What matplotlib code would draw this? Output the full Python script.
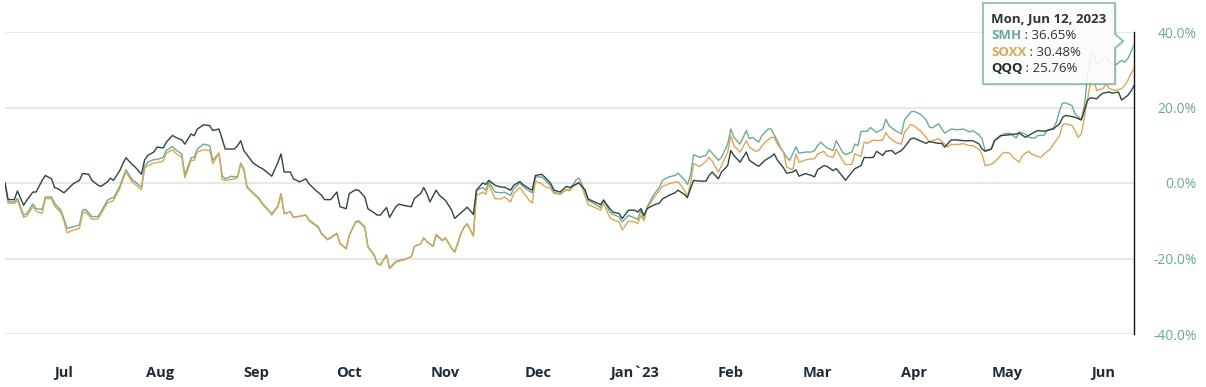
import numpy as np
import pandas as pd
import matplotlib
matplotlib.use("Agg")
import matplotlib.pyplot as plt
import matplotlib.transforms as mtransforms
from matplotlib.patches import Polygon

# cumulative return (%) since 2022-06-13; x = days since start
start = pd.Timestamp("2022-06-13")

qqq_day = [0, 1, 3, 4, 6, 7, 9, 10, 12, 13, 15, 16, 17, 19, 20, 22, 24, 25, 27, 28, 30, 31, 33, 34, 35, 37, 38, 39, 41, 42,
           44, 45, 46, 48, 49, 51, 52, 54, 55, 57, 58, 60, 61, 62, 64, 66, 67, 69, 70, 71, 73,
           74, 75, 76, 77, 79, 80, 82, 83, 85, 86, 88, 89, 90, 92, 93, 95, 97, 98, 100, 102, 103, 105, 107, 108, 110,
           111, 113, 114, 116, 117, 119, 120, 121, 123, 124, 126, 127, 129, 131, 132, 134, 135, 136, 137, 139, 140, 142, 144, 145,
           146, 148, 149, 151, 152, 154, 155, 156, 158, 160, 161, 163, 164, 166, 167, 169, 170, 171, 173, 174, 176, 177, 179,
           181, 182, 184, 185, 187, 188, 190, 192, 193, 195, 196, 198, 199, 201, 203, 204, 205, 206, 207, 209, 211, 212, 214, 216, 217,
           219, 220, 221, 222, 224, 226, 227, 228, 230, 231, 233, 234, 235, 237, 239, 240, 242, 243, 245, 247, 248, 249, 251, 252,
           254, 255, 256, 258, 260, 261, 262, 264, 265, 267, 268, 270, 271, 272, 274, 276, 277, 278, 280, 281, 283, 284, 286, 287, 289, 290,
           292, 293, 295, 297, 298, 299, 301, 302, 303, 305, 307, 309, 311, 312, 314, 315, 316, 318, 319, 321, 322, 324, 326, 327,
           329, 330, 332, 333, 335, 336, 338, 340, 341, 342, 344, 345, 347, 348, 349, 350, 352, 353, 354, 356, 357, 359, 360, 362, 363, 364]
qqq_val = [0.0, -4.4, -4.4, -2.1, -5.9, -4.6, -2.4, -2.4, 0.7, 2.0, 1.1, -1.2, -1.5, -2.6, -1.8, -0.2, 0.7, 2.5, 2.3, 0.7, -0.6, -0.9, 0.3, 1.3, 0.7, 3.3, 5.1, 6.7, 4.9, 4.2,
           2.3, 6.1, 7.3, 8.2, 9.5, 9.3, 10.8, 12.6, 12.1, 11.4, 10.3, 13.0, 12.5, 14.3, 15.4, 15.2, 13.9, 14.3, 11.7, 9.0, 9.0,
           9.0, 9.9, 11.2, 8.6, 6.4, 5.3, 4.2, 3.8, 2.5, 1.8, 5.5, 7.7, 2.9, 2.9, 1.1, 0.3, 1.1, -0.2, -1.8, -3.2, -4.4, -4.4, -2.4, -6.3, -6.8,
           -2.8, -1.8, -1.9, -3.7, -6.8, -7.9, -8.5, -8.5, -6.5, -9.1, -6.3, -5.6, -6.0, -6.3, -4.1, -2.8, -1.2, -2.8, -5.0, -1.9, -3.2, -4.6, -7.2, -9.4,
           -8.6, -7.2, -6.4, -8.3, -1.9, 0.0, -0.4, 0.7, -0.6, -1.1, -1.1, -1.9, -0.6, 0.4, -0.4, -1.5, -1.9, 2.0, 2.3, 1.6, -0.2, -1.9, -2.4,
           -0.9, -1.2, -0.4, 0.0, -1.8, -4.2, -5.0, -5.7, -4.6, -6.8, -7.7, -8.1, -9.4, -7.2, -7.2, -7.7, -6.8, -8.6, -6.8, -5.9, -5.3, -4.2, -3.3, -2.6, -1.9,
           -3.0, -3.9, -1.5, 0.7, 0.5, 0.5, 2.0, 2.9, 1.1, 2.9, 4.6, 8.6, 7.3, 5.5, 8.2, 6.0, 4.9, 4.4, 6.0, 7.0, 7.7, 6.1, 4.0, 2.6,
           2.9, 3.5, 1.8, 2.5, 2.0, 1.6, 3.5, 4.6, 4.4, 3.3, 3.8, 1.8, 0.7, 1.8, 3.8, 4.6, 6.8, 6.7, 6.8, 8.4, 7.3, 8.4, 8.6, 7.7, 8.6, 9.5,
           11.7, 11.9, 11.2, 10.5, 11.0, 10.8, 10.5, 10.5, 9.5, 11.4, 11.4, 11.2, 11.2, 11.2, 10.4, 9.0, 8.4, 9.0, 11.2, 12.6, 12.6, 12.8, 13.0, 13.2,
           12.1, 12.6, 13.5, 13.9, 13.7, 13.9, 14.3, 15.7, 17.4, 17.9, 17.6, 17.4, 16.7, 19.2, 21.9, 22.6, 22.3, 23.2, 23.8, 24.1, 23.8, 24.1, 22.0, 23.2, 24.3, 25.76]

smh_day = [0, 1, 3, 4, 6, 7, 9, 10, 12, 13, 15, 16, 18, 19, 20, 22, 24, 25, 26, 28, 30, 31, 33, 34, 35, 37, 38, 39, 41, 42,
           44, 45, 46, 48, 49, 51, 52, 54, 55, 57, 58, 60, 61, 62, 64, 66, 67, 69, 70, 71, 73,
           74, 75, 76, 77, 78, 80, 82, 83, 85, 86, 88, 89, 90, 92, 93, 95, 97, 98, 101, 102, 104, 105, 107, 108, 110,
           111, 113, 114, 116, 117, 119, 120, 121, 123, 124, 126, 127, 129, 131, 132, 134, 135, 136, 138, 139, 141, 142, 144, 145,
           147, 148, 149, 151, 152, 154, 155, 156, 158, 160, 161, 163, 164, 166, 167, 169, 170, 171, 173, 174, 176, 177, 179,
           181, 182, 184, 185, 186, 188, 190, 192, 193, 195, 196, 198, 199, 201, 203, 204, 205, 206, 207, 209, 211, 212, 214, 216, 217,
           219, 220, 221, 222, 224, 226, 227, 228, 230, 231, 233, 234, 235, 237, 239, 240, 241, 243, 244, 246, 247, 249, 250, 252,
           253, 255, 256, 258, 260, 261, 262, 263, 265, 267, 268, 270, 271, 273, 274, 275, 276, 278, 279, 281, 283, 284, 285, 287, 289, 290,
           292, 293, 295, 297, 298, 299, 301, 302, 303, 305, 307, 309, 311, 312, 314, 315, 316, 318, 319, 321, 322, 324, 326, 327,
           329, 330, 332, 333, 335, 336, 338, 339, 340, 341, 342, 344, 345, 347, 348, 349, 350, 351, 352, 354, 355, 356, 358, 360, 361, 362, 363, 364]
smh_val = [0.0, -5.0, -5.0, -4.1, -8.5, -8.1, -5.6, -6.8, -7.0, -3.7, -3.7, -5.4, -7.2, -9.4, -12.0, -11.6, -11.1, -7.2, -7.0, -8.9, -8.9, -7.6, -4.6, -4.1, -3.9, -0.9, 1.4, 3.5, 0.9, 0.3,
           -1.1, 4.4, 5.5, 6.2, 6.2, 6.8, 8.6, 9.7, 8.8, 7.7, 2.0, 6.7, 6.8, 9.0, 10.3, 9.9, 6.0, 7.9, 2.0, 1.1, 1.8,
           1.6, 1.8, 5.3, 3.8, -0.9, -2.6, -4.1, -5.4, -7.2, -8.2, -6.1, -2.8, -8.1, -7.6, -9.1, -8.8, -8.5, -9.8, -11.6, -13.3, -14.9, -14.4, -13.3, -16.0, -17.3,
           -13.8, -10.3, -10.0, -11.6, -16.8, -19.0, -21.2, -21.7, -19.0, -22.5, -20.8, -20.5, -20.2, -19.5, -16.8, -16.1, -14.6, -15.5, -16.8, -13.8, -15.3, -14.6, -17.3, -18.2,
           -13.4, -11.7, -10.8, -13.9, -1.9, -1.2, -1.9, 0.3, -2.4, -2.6, -2.4, -3.3, -1.5, 0.0, -0.9, -2.1, -2.6, 1.6, 1.6, 0.9, -0.9, -2.4, -3.0,
           -1.8, -1.9, 0.7, 1.3, -0.2, -4.6, -5.5, -6.5, -4.4, -7.7, -8.3, -9.0, -10.3, -8.6, -9.2, -9.7, -7.2, -9.9, -6.4, -3.3, -1.1, 0.7, 1.6, 2.0, 2.6,
           0.9, -0.4, 2.0, 7.5, 6.8, 7.3, 8.8, 7.9, 6.0, 6.8, 10.3, 14.3, 12.1, 10.3, 13.9, 11.7, 12.1, 10.8, 12.5, 14.3, 14.3, 11.2, 9.5, 6.8,
           6.0, 9.6, 7.9, 8.2, 8.2, 8.6, 9.9, 10.8, 9.3, 8.6, 11.2, 8.2, 7.5, 8.2, 10.3, 9.9, 13.7, 13.7, 14.7, 13.4, 14.3, 16.9, 15.2, 13.9, 13.0, 16.7,
           18.8, 19.0, 18.3, 16.7, 14.8, 14.6, 15.7, 14.3, 13.2, 14.3, 14.1, 14.3, 13.5, 13.9, 12.8, 11.7, 8.6, 9.0, 11.2, 12.3, 13.0, 13.2, 11.9, 13.5,
           13.0, 12.1, 11.9, 12.6, 12.6, 13.9, 14.6, 16.1, 19.2, 21.2, 21.2, 20.5, 18.3, 16.7, 20.5, 28.1, 34.2, 34.2, 31.6, 32.9, 33.4, 32.0, 31.2, 32.5, 32.0, 32.9, 34.7, 36.65]

soxx_day = [0, 1, 3, 4, 6, 7, 9, 10, 12, 13, 15, 16, 18, 19, 20, 22, 24, 25, 26, 28, 30, 31, 33, 34, 35, 37, 38, 39, 41, 42,
            44, 45, 46, 48, 49, 51, 52, 54, 55, 57, 58, 60, 61, 62, 64, 66, 67, 69, 70, 71, 73,
            74, 75, 76, 77, 78, 80, 82, 83, 85, 86, 88, 89, 90, 92, 93, 95, 97, 98, 101, 102, 104, 105, 107, 108, 110,
            111, 113, 114, 116, 117, 119, 120, 121, 123, 124, 126, 127, 129, 131, 132, 134, 135, 136, 138, 139, 141, 142, 144, 145,
            147, 148, 149, 151, 152, 154, 155, 156, 158, 160, 161, 163, 164, 166, 167, 169, 170, 171, 173, 174, 176, 177, 179,
            181, 182, 184, 185, 186, 188, 190, 192, 193, 195, 196, 198, 199, 201, 203, 204, 205, 206, 207, 209, 211, 212, 214, 216, 217,
            219, 220, 221, 222, 224, 226, 227, 228, 230, 231, 233, 234, 235, 237, 239, 240, 242, 243, 245, 247, 248, 249, 251, 252,
            254, 255, 256, 258, 260, 261, 262, 264, 265, 267, 268, 270, 271, 273, 274, 276, 277, 278, 280, 281, 283, 284, 285, 287, 289, 290,
            292, 293, 295, 297, 298, 299, 301, 302, 304, 305, 307, 309, 311, 312, 314, 315, 316, 318, 319, 321, 322, 324, 325, 327,
            328, 330, 331, 333, 334, 335, 337, 338, 340, 341, 342, 344, 345, 346, 347, 348, 350, 351, 352, 354, 355, 356, 358, 360, 361, 362, 363, 364]
soxx_val = [0.0, -5.4, -5.4, -4.6, -9.1, -8.8, -6.3, -7.4, -8.1, -4.1, -4.2, -6.1, -7.9, -10.0, -13.2, -12.5, -12.0, -8.1, -7.6, -9.6, -9.5, -8.1, -5.3, -5.0, -4.6, -1.5, 0.9, 2.9, 0.3, -0.4,
            -1.8, 3.8, 4.6, 5.3, 5.4, 5.8, 7.9, 8.8, 7.9, 6.8, 1.4, 6.0, 6.0, 8.2, 8.8, 8.6, 5.1, 7.9, 0.9, 0.7, 0.9,
            1.1, 1.4, 5.1, 3.3, -1.2, -2.8, -4.4, -5.7, -7.4, -8.5, -6.3, -3.0, -8.2, -7.6, -9.1, -8.8, -8.5, -10.0, -11.8, -13.5, -15.1, -14.6, -13.5, -16.1, -17.5,
            -13.9, -10.5, -10.3, -11.8, -17.0, -19.2, -21.4, -21.8, -19.2, -22.7, -21.0, -20.7, -20.3, -19.5, -16.8, -16.1, -14.5, -15.5, -16.8, -13.6, -15.1, -14.5, -17.3, -18.4,
            -13.6, -11.7, -10.9, -14.1, -3.3, -2.4, -3.0, -0.4, -4.2, -4.2, -3.7, -5.0, -2.8, -1.2, -2.4, -4.6, -5.3, 0.5, -0.2, -0.9, -1.5, -2.8, -2.8,
            -1.8, -2.1, -0.2, 0.3, -1.1, -5.7, -6.4, -7.2, -5.3, -9.2, -9.7, -10.3, -12.4, -10.1, -10.3, -10.8, -8.6, -9.9, -6.8, -4.2, -1.9, -0.9, -0.2, 0.2, 0.3,
            -1.8, -3.5, -0.2, 5.1, 4.4, 5.7, 6.8, 5.8, 2.9, 4.6, 8.2, 12.5, 9.9, 8.2, 11.2, 9.5, 8.4, 8.6, 10.8, 12.1, 12.1, 10.3, 8.2, 4.2,
            3.5, 7.7, 5.5, 6.1, 6.4, 6.4, 7.7, 8.4, 7.3, 6.8, 9.0, 6.0, 4.9, 4.9, 7.7, 7.0, 10.8, 10.5, 11.4, 11.2, 11.4, 13.4, 12.1, 10.8, 10.3, 13.4,
            15.5, 15.2, 13.9, 12.1, 10.8, 11.2, 11.7, 11.0, 9.6, 10.2, 10.2, 10.4, 9.9, 9.9, 9.0, 7.7, 4.6, 5.0, 5.5, 7.3, 8.1, 7.9, 6.8, 5.5,
            7.3, 8.4, 7.7, 7.0, 6.8, 7.7, 9.0, 10.2, 12.6, 15.5, 15.7, 15.2, 13.9, 12.1, 13.0, 17.4, 26.7, 27.2, 24.5, 25.0, 26.3, 25.0, 24.5, 25.0, 25.8, 27.2, 28.9, 30.48]

month_labels = ["Jul", "Aug", "Sep", "Oct", "Nov", "Dec", "Jan`23", "Feb", "Mar", "Apr", "May", "Jun"]
month_ticks = pd.date_range("2022-07-01", "2023-06-01", freq="MS")
y_ticks = [-40, -20, 0, 20, 40]

c_smh = "#6caa98"
c_soxx = "#dba655"
c_qqq = "#2c463c"
c_axis = "#6aa99b"

W, H = 1206, 387
fig = plt.figure(figsize=(W / 100, H / 100), dpi=100)
ax = fig.add_axes([5 / W, 53 / H, 1129 / W, 302 / H])

def to_dates(days):
    return start + pd.to_timedelta(days, unit="D")

ax.plot(to_dates(smh_day), smh_val, color=c_smh, lw=1.0, zorder=3)
ax.plot(to_dates(soxx_day), soxx_val, color=c_soxx, lw=1.0, zorder=4)
ax.plot(to_dates(qqq_day), qqq_val, color=c_qqq, lw=1.0, zorder=5)

ax.set_xlim(start, start + pd.Timedelta(days=364))
ax.set_ylim(-40, 40)

ax.set_xticks(month_ticks)
ax.set_xticklabels(month_labels, fontsize=10.5, fontweight="bold", color="#1c2b3a", family="Open Sans")
ax.tick_params(axis="x", length=0, pad=23)
shift = mtransforms.ScaledTranslation(3 / 100, 0, fig.dpi_scale_trans)
for lab in ax.get_xticklabels():
    lab.set_transform(lab.get_transform() + shift)

ax.yaxis.tick_right()
ax.set_yticks(y_ticks)
ax.set_yticklabels([f"{v:.1f}%" for v in y_ticks], fontsize=10, color=c_axis, family="Open Sans")
for lab in ax.get_yticklabels():
    lab.set_horizontalalignment("right")
ax.tick_params(axis="y", length=0, pad=45)

ax.grid(axis="y", color="#e4e4e4", lw=1.2, zorder=0)
for s in ["left", "top", "bottom"]:
    ax.spines[s].set_visible(False)
ax.spines["right"].set_color("#111111")
ax.spines["right"].set_linewidth(1.0)

# tooltip
def fx(px):
    return px / W

def fy(py):
    return 1 - py / H

outline = [(983, 3), (1115, 3), (1115, 34), (1123, 41), (1115, 48), (1115, 84), (983, 84)]
shadow = Polygon([(fx(x + 2), fy(y + 2)) for x, y in outline], closed=True, transform=fig.transFigure,
                 facecolor="#000000", alpha=0.08, edgecolor="none", zorder=9)
box = Polygon([(fx(x), fy(y)) for x, y in outline], closed=True, transform=fig.transFigure,
              facecolor="white", alpha=0.88, edgecolor="#7fb5a6", lw=1.3, zorder=10)
fig.patches.extend([shadow, box])

fig.text(fx(991), fy(19), "Mon, Jun 12, 2023", fontsize=9.5, fontweight="bold", color="#333333",
         family="Open Sans", va="center", zorder=11)

renderer = fig.canvas.get_renderer()
rows = [("SMH", c_smh, "36.65%", 35.5), ("SOXX", c_soxx, "30.48%", 52), ("QQQ", "#1e2e28", "25.76%", 68.5)]
for name, col, val, py in rows:
    t = fig.text(fx(991), fy(py), name, fontsize=9.5, fontweight="bold", color=col,
                 family="Open Sans", va="center", zorder=11)
    bb = t.get_window_extent(renderer)
    fig.text(bb.x1 / W, fy(py), " : " + val, fontsize=9.5, color="#333333",
             family="Open Sans", va="center", zorder=11)

fig.savefig("out.png", dpi=100)
